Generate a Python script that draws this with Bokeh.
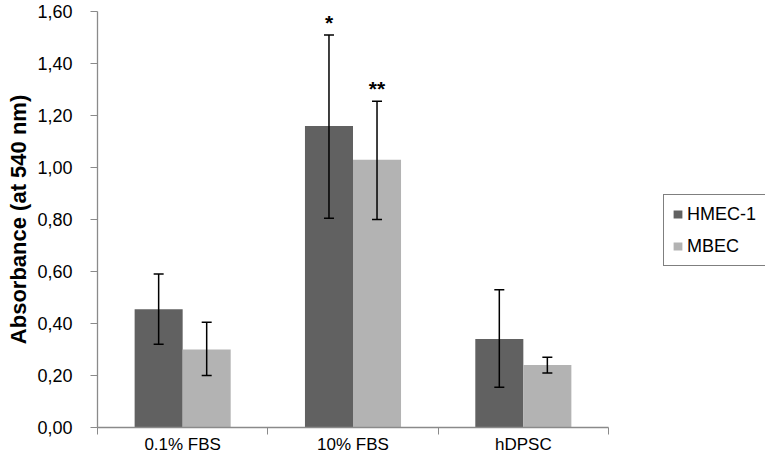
from bokeh.plotting import figure
from bokeh.models import ColumnDataSource, Whisker, FixedTicker, Legend, LegendItem, Range1d, TeeHead
from bokeh.transform import dodge
from bokeh.core.properties import value
from bokeh.embed import file_html
from bokeh.resources import INLINE

categories = ["0.1% FBS", "10% FBS", "hDPSC"]
series = ["HMEC-1", "MBEC"]
hmec_mean = [0.455, 1.16, 0.34]
hmec_lower = [0.32, 0.805, 0.155]
hmec_upper = [0.59, 1.51, 0.53]
mbec_mean = [0.30, 1.03, 0.24]
mbec_lower = [0.20, 0.80, 0.21]
mbec_upper = [0.405, 1.255, 0.27]
hmec_marks = ["", "*", ""]
mbec_marks = ["", "**", ""]
y_ticks = [0.0, 0.2, 0.4, 0.6, 0.8, 1.0, 1.2, 1.4, 1.6]
y_tick_labels = ["0,00", "0,20", "0,40", "0,60", "0,80", "1,00", "1,20", "1,40", "1,60"]

FONT = "Liberation Sans"
DARK = "#616161"
LIGHT = "#b3b3b3"
AXIS = "#8a8a8a"

# layout (pixels)
W, H = 765, 454
LEFT, TOP, BOTTOM = 97, 11, 27
PLOT_W = 511                      # width of the category area
FRAME_W = W - LEFT                # frame continues under the legend
FRAME_H = H - TOP - BOTTOM

n = len(categories)
centers = [i + 0.5 for i in range(n)]
boundaries = [float(i) for i in range(n + 1)]
x_end = n * FRAME_W / PLOT_W

src_h = ColumnDataSource(dict(x=centers, top=hmec_mean, lower=hmec_lower, upper=hmec_upper, mark=hmec_marks))
src_m = ColumnDataSource(dict(x=centers, top=mbec_mean, lower=mbec_lower, upper=mbec_upper, mark=mbec_marks))

p = figure(frame_width=FRAME_W, frame_height=FRAME_H, output_backend="svg", toolbar_location=None,
           x_range=Range1d(0, x_end), y_range=Range1d(0, 1.6),
           min_border_left=LEFT, min_border_right=0, min_border_top=TOP, min_border_bottom=BOTTOM)
p.outline_line_color = None
p.xgrid.visible = False
p.ygrid.visible = False
p.background_fill_color = "white"
p.border_fill_color = "white"

off = 0.141
w = 0.282
r_h = p.vbar(x=dodge("x", -off), top="top", width=w, bottom=0, source=src_h,
             fill_color=DARK, line_color=None)
r_m = p.vbar(x=dodge("x", off), top="top", width=w, bottom=0, source=src_m,
             fill_color=LIGHT, line_color=None)

for src, o in ((src_h, -off), (src_m, off)):
    wk = Whisker(source=src, base=dodge("x", o), upper="upper", lower="lower",
                 line_color="black", line_width=1.5, level="overlay",
                 upper_head=TeeHead(size=10, line_color="black", line_width=1.5),
                 lower_head=TeeHead(size=10, line_color="black", line_width=1.5))
    p.add_layout(wk)
    p.text(x=dodge("x", o), y="upper", text="mark", source=src, text_align="center",
           text_baseline="bottom", y_offset=-1, text_font=value(FONT),
           text_font_size="21px", text_font_style="bold", text_color="black")

# x axis
xa = p.xaxis[0]
xa.bounds = (0, n)
xa.ticker = FixedTicker(ticks=centers, minor_ticks=boundaries)
xa.major_label_overrides = {c: lab for c, lab in zip(centers, categories)}
xa.major_tick_line_color = None
xa.major_tick_in = 0
xa.major_tick_out = 7
xa.minor_tick_line_color = AXIS
xa.minor_tick_in = 0
xa.minor_tick_out = 7
xa.axis_line_color = AXIS
xa.axis_line_width = 1.3
xa.major_label_standoff = 0
xa.major_label_text_font = FONT
xa.major_label_text_font_size = "17px"
xa.major_label_text_color = "black"

ya = p.yaxis[0]
ya.ticker = FixedTicker(ticks=y_ticks, minor_ticks=[])
ya.major_label_overrides = {t: lab for t, lab in zip(y_ticks, y_tick_labels)}
ya.major_tick_line_color = AXIS
ya.major_tick_in = 0
ya.major_tick_out = 7
ya.axis_line_color = AXIS
ya.axis_line_width = 1.3
ya.major_label_standoff = 18
ya.major_label_text_font = FONT
ya.major_label_text_font_size = "18px"
ya.major_label_text_color = "black"
ya.axis_label = "Absorbance (at 540 nm)"
ya.axis_label_text_font = FONT
ya.axis_label_text_font_size = "22px"
ya.axis_label_text_font_style = "bold"
ya.axis_label_text_color = "black"
ya.axis_label_standoff = 3

legend = Legend(items=[LegendItem(label=series[0], renderers=[r_h]),
                       LegendItem(label=series[1], renderers=[r_m])],
                location=(566, 161), orientation="vertical",
                border_line_color="black", border_line_width=1.2,
                background_fill_color="white", background_fill_alpha=1,
                padding=8, spacing=10, glyph_width=11, glyph_height=10,
                label_height=22, label_width=70, label_standoff=4, margin=0,
                label_text_font=FONT, label_text_font_size="18px", label_text_color="black")
p.add_layout(legend, "center")

open("out.html", "w").write(file_html(p, INLINE))
